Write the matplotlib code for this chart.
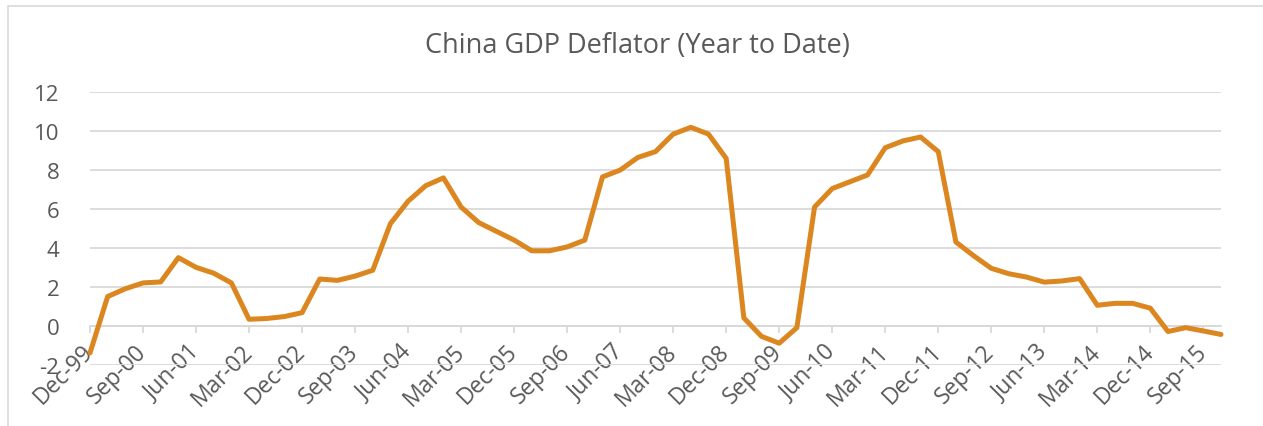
import matplotlib.pyplot as plt
from matplotlib.patches import Rectangle

# quarterly GDP deflator (YTD, %), Dec-99 .. Dec-15
deflator = [
    -1.4, 1.5, 1.9, 2.2, 2.25, 3.5, 3.0, 2.7, 2.2, 0.33, 0.37, 0.47, 0.67,
    2.4, 2.33, 2.55, 2.85, 5.25, 6.4, 7.2, 7.6, 6.1, 5.3, 4.85, 4.4, 3.85,
    3.85, 4.05, 4.4, 7.65, 8.0, 8.65, 8.95, 9.85, 10.2, 9.85, 8.6, 0.4,
    -0.55, -0.9, -0.1, 6.1, 7.05, 7.4, 7.75, 9.15, 9.5, 9.7, 8.95, 4.3,
    3.6, 2.95, 2.67, 2.5, 2.24, 2.3, 2.42, 1.05, 1.15, 1.15, 0.9, -0.3,
    -0.1, -0.27, -0.45,
]
tick_labels = [
    "Dec-99", "Sep-00", "Jun-01", "Mar-02", "Dec-02", "Sep-03", "Jun-04",
    "Mar-05", "Dec-05", "Sep-06", "Jun-07", "Mar-08", "Dec-08", "Sep-09",
    "Jun-10", "Mar-11", "Dec-11", "Sep-12", "Jun-13", "Mar-14", "Dec-14",
    "Sep-15",
]
y_ticks = [-2, 0, 2, 4, 6, 8, 10, 12]

text_color = "#595959"
grid_color = "#d9d9d9"
plt.rcParams["font.family"] = ["Open Sans", "DejaVu Sans"]

fig = plt.figure(figsize=(12.63, 4.27), dpi=100)
# outer chart border
fig.patches.append(Rectangle((8 / 1263, -0.1), 1.2, (427 - 7) / 427 + 0.1,
                             transform=fig.transFigure, fill=False,
                             edgecolor=grid_color, linewidth=1.2))

ax = fig.add_axes([90 / 1263, (427 - 365.6) / 427, (1221 - 90) / 1263,
                   (365.6 - 93.3) / 427])

for side in ["left", "right", "top"]:
    ax.spines[side].set_visible(False)
ax.spines["bottom"].set_position(("data", 0))
ax.spines["bottom"].set_color(grid_color)
ax.spines["bottom"].set_linewidth(1.3)

x = list(range(len(deflator)))
ax.plot(x, deflator, color="#DB861E", linewidth=3.6, solid_capstyle="round",
        solid_joinstyle="round", zorder=3, clip_on=False)

ax.set_xlim(0, len(deflator) - 1)
ax.set_ylim(-2, 12)
ax.set_yticks(y_ticks)
ax.set_yticklabels([str(v) for v in y_ticks])
ax.yaxis.grid(True, color=grid_color, linewidth=1.3)
ax.set_axisbelow(True)

ax.set_xticks(x[::3])
ax.set_xticklabels(tick_labels)

ax.tick_params(axis="y", length=0, pad=22, labelsize=16,
               labelcolor=text_color)
ax.tick_params(axis="x", length=5, width=1.3, color=grid_color, pad=11,
               labelsize=16.5, labelcolor=text_color)
for lab in ax.get_xticklabels():
    lab.set_rotation(45)
    lab.set_ha("right")
    lab.set_va("center")
    lab.set_rotation_mode("anchor")

fig.text(637 / 1263, (427 - 46) / 427, "China GDP Deflator (Year to Date)",
         ha="center", va="center", fontsize=19.5, color=text_color)

fig.savefig("out.png", dpi=100)
